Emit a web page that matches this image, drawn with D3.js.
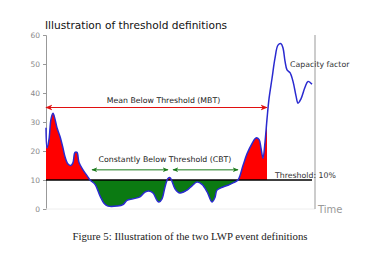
<!DOCTYPE html>
<html>
<head>
<meta charset="utf-8">
<script src="https://cdn.jsdelivr.net/npm/d3@7"></script>
<style>
  body { margin: 0; background: #fff; }
  svg { display: block; font-family: "DejaVu Sans", sans-serif; }
</style>
</head>
<body>
<svg id="chart" width="384" height="256"></svg>
<script>
  // capacity factor (%) against time step
  const times = [0, 1, 3, 5, 7, 9, 11, 14, 17, 19, 22, 25, 27, 29, 31, 33, 37, 41, 44, 49, 54, 58, 62, 71, 77, 81, 87, 94, 99, 103, 107, 111, 113, 116, 119, 122, 124, 126, 129, 134, 141, 146, 151, 156, 161, 166, 169, 171, 177, 182, 187, 192, 197, 201, 206, 210, 213, 215, 217, 219, 221, 223, 226, 229, 232, 235, 237, 239, 241, 244, 247, 250, 252, 255, 259, 262, 266];
  const values = [28, 21, 24, 31, 33, 31, 28, 25, 21, 18, 15.5, 15, 16, 19.5, 19.5, 16, 13.5, 11.5, 10, 8.5, 4.5, 2, 1, 1, 1.5, 3, 3.5, 4.2, 5.8, 6.2, 5.5, 3, 2.4, 3.5, 7.6, 10.5, 10.8, 9.5, 7, 5.5, 6.5, 8, 9.3, 8.5, 6, 2.4, 4, 6.5, 7.6, 8.2, 9, 10, 15, 19, 22.5, 24.5, 24, 21, 17.5, 23, 31, 38, 45, 52, 56.5, 57, 55.5, 51, 48, 47, 44, 39, 36.5, 38, 42, 44, 43];

  const threshold = 10;
  const yTicks = [0, 10, 20, 30, 40, 50, 60];
  const mbtRange = [0, 221];
  const mbtLevel = 35;
  const cbtRanges = [[46, 122], [127, 192]];
  const cbtLevel = 13.5;

  const svg = d3.select("#chart");
  const plotLeft = 46, plotRight = 315, plotTop = 35, plotBottom = 209;

  const x = d3.scaleLinear().domain([0, 269]).range([plotLeft, plotRight]);
  const y = d3.scaleLinear().domain([0, 60]).range([plotBottom, plotTop]);

  const data = times.map((t, i) => ({ t: t, v: values[i] }));

  // title
  svg.append("text")
    .attr("x", 45).attr("y", 29)
    .attr("font-size", 10.6).attr("fill", "#111")
    .text("Illustration of threshold definitions");

  // y axis
  const yAxis = svg.append("g")
    .attr("transform", `translate(${plotLeft},0)`)
    .call(d3.axisLeft(y).tickValues(yTicks).tickSize(3).tickPadding(3));
  yAxis.select(".domain").attr("stroke", "#999");
  yAxis.selectAll(".tick line").attr("stroke", "#999");
  yAxis.selectAll("text").attr("fill", "#888").attr("font-size", 7.5)
    .attr("font-family", "DejaVu Sans");

  // faint zero line
  svg.append("line")
    .attr("x1", plotLeft).attr("x2", plotRight)
    .attr("y1", y(0)).attr("y2", y(0))
    .attr("stroke", "#eee");

  // time axis (vertical line on right)
  svg.append("line")
    .attr("x1", plotRight).attr("x2", plotRight)
    .attr("y1", y(60)).attr("y2", y(0))
    .attr("stroke", "#999").attr("stroke-width", 1);
  svg.append("text")
    .attr("x", plotRight + 3).attr("y", y(0) + 4)
    .attr("font-size", 10).attr("fill", "#999")
    .text("Time");

  // clip regions for fills
  const defs = svg.append("defs");
  defs.append("clipPath").attr("id", "clipRed")
    .append("rect")
      .attr("x", x(mbtRange[0])).attr("y", 0)
      .attr("width", x(mbtRange[1]) - x(mbtRange[0]))
      .attr("height", y(threshold));
  defs.append("clipPath").attr("id", "clipGreen")
    .append("rect")
      .attr("x", plotLeft).attr("y", y(threshold))
      .attr("width", plotRight - plotLeft)
      .attr("height", 256 - y(threshold));

  const curve = d3.curveCatmullRom.alpha(0.5);

  const area = d3.area()
    .x(d => x(d.t))
    .y0(y(threshold))
    .y1(d => y(d.v))
    .curve(curve);

  svg.append("path").datum(data)
    .attr("d", area)
    .attr("fill", "#ff0000")
    .attr("clip-path", "url(#clipRed)");

  svg.append("path").datum(data)
    .attr("d", area)
    .attr("fill", "#0b7a12")
    .attr("clip-path", "url(#clipGreen)");

  // threshold line
  svg.append("line")
    .attr("x1", plotLeft).attr("x2", x(266))
    .attr("y1", y(threshold)).attr("y2", y(threshold))
    .attr("stroke", "#000").attr("stroke-width", 1.5);

  // capacity factor curve
  svg.append("path").datum(data)
    .attr("d", d3.line().x(d => x(d.t)).y(d => y(d.v)).curve(curve))
    .attr("fill", "none")
    .attr("stroke", "#2a2ad0")
    .attr("stroke-width", 1.5);

  // arrow markers
  function marker(id, color) {
    defs.append("marker").attr("id", id)
      .attr("viewBox", "0 0 10 10").attr("refX", 9).attr("refY", 5)
      .attr("markerWidth", 6).attr("markerHeight", 6)
      .attr("orient", "auto-start-reverse")
      .append("path").attr("d", "M0,1L10,5L0,9L3,5Z").attr("fill", color);
  }
  marker("arrRed", "#e01010");
  marker("arrGreen", "#1a7a1a");

  // MBT arrow
  svg.append("line")
    .attr("x1", x(mbtRange[0])).attr("x2", x(mbtRange[1]))
    .attr("y1", y(mbtLevel)).attr("y2", y(mbtLevel))
    .attr("stroke", "#e01010").attr("stroke-width", 1.2)
    .attr("marker-start", "url(#arrRed)").attr("marker-end", "url(#arrRed)");
  svg.append("text")
    .attr("x", (x(mbtRange[0]) + x(mbtRange[1])) / 2 + 7)
    .attr("y", y(mbtLevel) - 5)
    .attr("text-anchor", "middle").attr("font-size", 7.8).attr("fill", "#222")
    .text("Mean Below Threshold (MBT)");

  // CBT arrows
  svg.selectAll(".cbt").data(cbtRanges).enter().append("line")
    .attr("class", "cbt")
    .attr("x1", d => x(d[0])).attr("x2", d => x(d[1]))
    .attr("y1", y(cbtLevel)).attr("y2", y(cbtLevel))
    .attr("stroke", "#1a7a1a").attr("stroke-width", 1)
    .attr("marker-start", "url(#arrGreen)").attr("marker-end", "url(#arrGreen)");
  svg.append("text")
    .attr("x", (x(cbtRanges[0][0]) + x(cbtRanges[1][1])) / 2)
    .attr("y", y(cbtLevel) - 8)
    .attr("text-anchor", "middle").attr("font-size", 7.8).attr("fill", "#222")
    .text("Constantly Below Threshold (CBT)");

  // annotations
  svg.append("text")
    .attr("x", x(244)).attr("y", y(49))
    .attr("font-size", 7.8).attr("fill", "#333")
    .text("Capacity factor");
  svg.append("text")
    .attr("x", x(229)).attr("y", y(threshold) - 2)
    .attr("font-size", 7.8).attr("fill", "#333")
    .text("Threshold: 10%");

  // caption
  svg.append("text")
    .attr("x", 190).attr("y", 240)
    .attr("text-anchor", "middle")
    .attr("font-family", "Liberation Serif, serif")
    .attr("font-size", 10.8).attr("fill", "#222")
    .text("Figure 5: Illustration of the two LWP event definitions");
</script>
</body>
</html>
